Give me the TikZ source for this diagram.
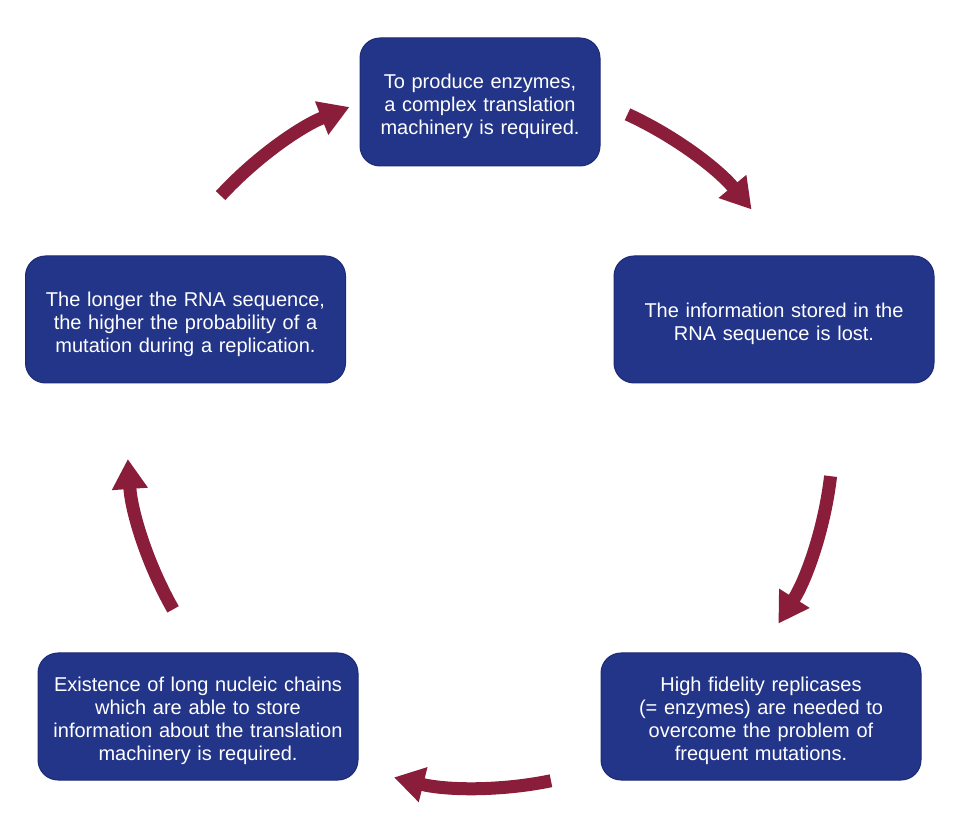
\documentclass[tikz,border=0pt]{standalone}
\usepackage{fontspec}
\setmainfont{Liberation Sans}
\usetikzlibrary{arrows.meta,calc}
\definecolor{boxblue}{RGB}{35,53,136}
\definecolor{boxedge}{RGB}{28,42,118}
\definecolor{arrred}{RGB}{138,29,58}
\tikzset{
  stepbox/.style={rectangle, rounded corners=20pt, fill=boxblue, draw=boxedge, line width=1pt,
    minimum width=320pt, minimum height=127pt, text width=300pt, align=center,
    text=white, font=\fontsize{20}{23}\selectfont, inner sep=0pt,
    execute at begin node={\rule{0pt}{24pt}}},
  cyclearrow/.style={draw=arrred, line width=13pt,
    -{Triangle[length=30pt,width=34pt,fill=arrred]}},
}
\begin{document}
\begin{tikzpicture}[x=1pt,y=1pt]
\useasboundingbox[fill=white] (0,0) rectangle (960,832);
\node[stepbox, minimum width=240pt, minimum height=128pt, text width=230pt] (top) at (480,730)
  {To produce enzymes,\\a complex translation\\machinery is required.};
\node[stepbox] (right) at (774,512.5) {The information stored in the\\RNA sequence is lost.};
\node[stepbox] (left) at (185.5,512.5) {The longer the RNA sequence,\\the higher the probability of a\\mutation during a replication.};
\node[stepbox] (br) at (761,115.5) {High fidelity replicases\\(= enzymes) are needed to\\overcome the problem of\\frequent mutations.};
\node[stepbox] (bl) at (198,115.5) {Existence of long nucleic chains\\which are able to store\\information about the translation\\machinery is required.};
\coordinate (c) at (480,397);
\coordinate (a1) at ($(c)+(137.3:353)$);
\coordinate (a2) at ($(c)+(65.3:353)$);
\coordinate (a3) at ($(c)+(-6.7:353)$);
\coordinate (a4) at ($(c)+(-78.4:353)$);
\coordinate (a5) at ($(c)+(-150.4:353)$);
\draw[cyclearrow] (a1) arc[start angle=137.3, end angle=111.7, radius=353];
\draw[cyclearrow] (a2) arc[start angle=65.3, end angle=39.7, radius=353];
\draw[cyclearrow] (a3) arc[start angle=-6.7, end angle=-32.3, radius=353];
\draw[cyclearrow] (a4) arc[start angle=-78.4, end angle=-104.1, radius=353];
\draw[cyclearrow] (a5) arc[start angle=-150.4, end angle=-176.1, radius=353];
\end{tikzpicture}
\end{document}
